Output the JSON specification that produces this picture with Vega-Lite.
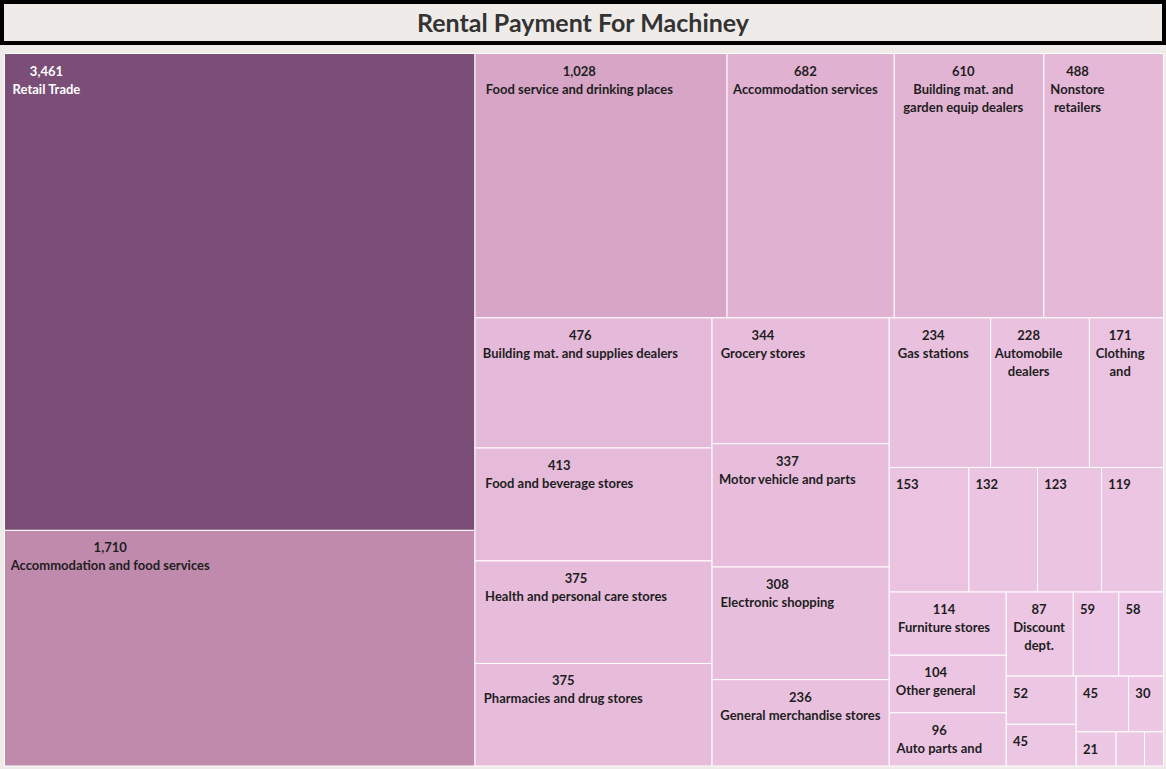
{
  "$schema": "https://vega.github.io/schema/vega-lite/v6.json",
  "background": "#efebe9",
  "padding": 0,
  "spacing": 8,
  "config": {"view": {"stroke": null}},
  "vconcat": [
    {
      "width": 1162,
      "height": 41,
      "view": {"stroke": "#000000", "strokeWidth": 4, "fill": "#efebe9"},
      "data": {"values": [{"title": "Rental Payment For Machiney"}]},
      "mark": {"type": "text", "font": "Lato", "fontSize": 25, "fontWeight": "bold", "color": "#333333", "align": "center", "baseline": "middle", "dy": 1},
      "encoding": {"text": {"field": "title", "type": "nominal"}}
    },
    {
      "width": 1164,
      "height": 714,
      "data": {
        "values": [
          {"id": "Retail Trade", "value": 3461, "path": "A", "l1": "Retail Trade", "l2": ""},
          {"id": "Accommodation and food services", "value": 1710, "path": "A", "l1": "Accommodation and food services", "l2": ""},
          {"id": "Food service and drinking places", "value": 1028, "path": "B/B1", "l1": "Food service and drinking places", "l2": ""},
          {"id": "Accommodation services", "value": 682, "path": "B/B1", "l1": "Accommodation services", "l2": ""},
          {"id": "Building mat. and garden equip dealers", "value": 610, "path": "B/B1", "l1": "Building mat. and", "l2": "garden equip dealers"},
          {"id": "Nonstore retailers", "value": 488, "path": "B/B1", "l1": "Nonstore", "l2": "retailers"},
          {"id": "Building mat. and supplies dealers", "value": 476, "path": "B/B2/C1", "l1": "Building mat. and supplies dealers", "l2": ""},
          {"id": "Food and beverage stores", "value": 413, "path": "B/B2/C1", "l1": "Food and beverage stores", "l2": ""},
          {"id": "Health and personal care stores", "value": 375, "path": "B/B2/C1", "l1": "Health and personal care stores", "l2": ""},
          {"id": "Pharmacies and drug stores", "value": 375, "path": "B/B2/C1", "l1": "Pharmacies and drug stores", "l2": ""},
          {"id": "Grocery stores", "value": 344, "path": "B/B2/C2", "l1": "Grocery stores", "l2": ""},
          {"id": "Motor vehicle and parts dealers", "value": 337, "path": "B/B2/C2", "l1": "Motor vehicle and parts", "l2": ""},
          {"id": "Electronic shopping", "value": 308, "path": "B/B2/C2", "l1": "Electronic shopping", "l2": ""},
          {"id": "General merchandise stores", "value": 236, "path": "B/B2/C2", "l1": "General merchandise stores", "l2": ""},
          {"id": "Gas stations", "value": 234, "path": "B/B2/C3/D1", "l1": "Gas stations", "l2": ""},
          {"id": "Automobile dealers", "value": 228, "path": "B/B2/C3/D1", "l1": "Automobile", "l2": "dealers"},
          {"id": "Clothing and clothing accessories stores", "value": 171, "path": "B/B2/C3/D1", "l1": "Clothing", "l2": "and"},
          {"id": "Unlabelled 153", "value": 153, "path": "B/B2/C3/D2", "l1": "", "l2": ""},
          {"id": "Unlabelled 132", "value": 132, "path": "B/B2/C3/D2", "l1": "", "l2": ""},
          {"id": "Unlabelled 123", "value": 123, "path": "B/B2/C3/D2", "l1": "", "l2": ""},
          {"id": "Unlabelled 119", "value": 119, "path": "B/B2/C3/D2", "l1": "", "l2": ""},
          {"id": "Furniture stores", "value": 114, "path": "B/B2/C3/D3/E1", "l1": "Furniture stores", "l2": ""},
          {"id": "Other general merchandise stores", "value": 104, "path": "B/B2/C3/D3/E1", "l1": "Other general", "l2": ""},
          {"id": "Auto parts and accessories stores", "value": 96, "path": "B/B2/C3/D3/E1", "l1": "Auto parts and", "l2": ""},
          {"id": "Discount dept. stores", "value": 87, "path": "B/B2/C3/D3/E2/F1", "l1": "Discount", "l2": "dept."},
          {"id": "Unlabelled 59", "value": 59, "path": "B/B2/C3/D3/E2/F1", "l1": "", "l2": ""},
          {"id": "Unlabelled 58", "value": 58, "path": "B/B2/C3/D3/E2/F1", "l1": "", "l2": ""},
          {"id": "Unlabelled 52", "value": 52, "path": "B/B2/C3/D3/E2/F2/G1", "l1": "", "l2": ""},
          {"id": "Unlabelled 45a", "value": 45, "path": "B/B2/C3/D3/E2/F2/G1", "l1": "", "l2": ""},
          {"id": "Unlabelled 45b", "value": 45, "path": "B/B2/C3/D3/E2/F2/G2/H1", "l1": "", "l2": ""},
          {"id": "Unlabelled 30", "value": 30, "path": "B/B2/C3/D3/E2/F2/G2/H1", "l1": "", "l2": ""},
          {"id": "Unlabelled 21", "value": 21, "path": "B/B2/C3/D3/E2/F2/G2/H2", "l1": "", "l2": ""},
          {"id": "Unlabelled 15", "value": 15, "path": "B/B2/C3/D3/E2/F2/G2/H2", "l1": "", "l2": ""},
          {"id": "Unlabelled 10", "value": 10, "path": "B/B2/C3/D3/E2/F2/G2/H2", "l1": "", "l2": ""}
        ]
      },
      "transform": [
        {"window": [{"op": "row_number", "as": "i"}]},
        {"calculate": "split(datum.path, '/')", "as": "pp"},
        {"calculate": "datum.pp[0] || datum.id", "as": "c1"},
        {"calculate": "datum.pp[1] || datum.id", "as": "c2"},
        {"calculate": "datum.pp[2] || datum.id", "as": "c3"},
        {"calculate": "datum.pp[3] || datum.id", "as": "c4"},
        {"calculate": "datum.pp[4] || datum.id", "as": "c5"},
        {"calculate": "datum.pp[5] || datum.id", "as": "c6"},
        {"calculate": "datum.pp[6] || datum.id", "as": "c7"},
        {"calculate": "datum.pp[7] || datum.id", "as": "c8"},
        {"calculate": "datum.pp[8] || datum.id", "as": "c9"},
        {"calculate": "0", "as": "x0"},
        {"calculate": "1", "as": "x1"},
        {"calculate": "0", "as": "y0"},
        {"calculate": "1", "as": "y1"},

        {"joinaggregate": [{"op": "sum", "field": "value", "as": "P"}]},
        {"stack": "value", "groupby": [], "sort": [{"field": "i", "order": "ascending"}], "as": ["s0", "s1"]},
        {"joinaggregate": [{"op": "min", "field": "s0", "as": "a"}, {"op": "max", "field": "s1", "as": "b"}], "groupby": ["c1"]},
        {"calculate": "datum.x0", "as": "t"},
        {"calculate": "datum.t + (datum.x1 - datum.t) * datum.a / datum.P", "as": "x0"},
        {"calculate": "datum.t + (datum.x1 - datum.t) * datum.b / datum.P", "as": "x1"},

        {"joinaggregate": [{"op": "sum", "field": "value", "as": "P"}], "groupby": ["c1"]},
        {"stack": "value", "groupby": ["c1"], "sort": [{"field": "i", "order": "ascending"}], "as": ["s0", "s1"]},
        {"joinaggregate": [{"op": "min", "field": "s0", "as": "a"}, {"op": "max", "field": "s1", "as": "b"}], "groupby": ["c2"]},
        {"calculate": "datum.y0", "as": "t"},
        {"calculate": "datum.t + (datum.y1 - datum.t) * datum.a / datum.P", "as": "y0"},
        {"calculate": "datum.t + (datum.y1 - datum.t) * datum.b / datum.P", "as": "y1"},

        {"joinaggregate": [{"op": "sum", "field": "value", "as": "P"}], "groupby": ["c2"]},
        {"stack": "value", "groupby": ["c2"], "sort": [{"field": "i", "order": "ascending"}], "as": ["s0", "s1"]},
        {"joinaggregate": [{"op": "min", "field": "s0", "as": "a"}, {"op": "max", "field": "s1", "as": "b"}], "groupby": ["c3"]},
        {"calculate": "datum.x0", "as": "t"},
        {"calculate": "datum.t + (datum.x1 - datum.t) * datum.a / datum.P", "as": "x0"},
        {"calculate": "datum.t + (datum.x1 - datum.t) * datum.b / datum.P", "as": "x1"},

        {"joinaggregate": [{"op": "sum", "field": "value", "as": "P"}], "groupby": ["c3"]},
        {"stack": "value", "groupby": ["c3"], "sort": [{"field": "i", "order": "ascending"}], "as": ["s0", "s1"]},
        {"joinaggregate": [{"op": "min", "field": "s0", "as": "a"}, {"op": "max", "field": "s1", "as": "b"}], "groupby": ["c4"]},
        {"calculate": "datum.y0", "as": "t"},
        {"calculate": "datum.t + (datum.y1 - datum.t) * datum.a / datum.P", "as": "y0"},
        {"calculate": "datum.t + (datum.y1 - datum.t) * datum.b / datum.P", "as": "y1"},

        {"joinaggregate": [{"op": "sum", "field": "value", "as": "P"}], "groupby": ["c4"]},
        {"stack": "value", "groupby": ["c4"], "sort": [{"field": "i", "order": "ascending"}], "as": ["s0", "s1"]},
        {"joinaggregate": [{"op": "min", "field": "s0", "as": "a"}, {"op": "max", "field": "s1", "as": "b"}], "groupby": ["c5"]},
        {"calculate": "datum.x0", "as": "t"},
        {"calculate": "datum.t + (datum.x1 - datum.t) * datum.a / datum.P", "as": "x0"},
        {"calculate": "datum.t + (datum.x1 - datum.t) * datum.b / datum.P", "as": "x1"},

        {"joinaggregate": [{"op": "sum", "field": "value", "as": "P"}], "groupby": ["c5"]},
        {"stack": "value", "groupby": ["c5"], "sort": [{"field": "i", "order": "ascending"}], "as": ["s0", "s1"]},
        {"joinaggregate": [{"op": "min", "field": "s0", "as": "a"}, {"op": "max", "field": "s1", "as": "b"}], "groupby": ["c6"]},
        {"calculate": "datum.y0", "as": "t"},
        {"calculate": "datum.t + (datum.y1 - datum.t) * datum.a / datum.P", "as": "y0"},
        {"calculate": "datum.t + (datum.y1 - datum.t) * datum.b / datum.P", "as": "y1"},

        {"joinaggregate": [{"op": "sum", "field": "value", "as": "P"}], "groupby": ["c6"]},
        {"stack": "value", "groupby": ["c6"], "sort": [{"field": "i", "order": "ascending"}], "as": ["s0", "s1"]},
        {"joinaggregate": [{"op": "min", "field": "s0", "as": "a"}, {"op": "max", "field": "s1", "as": "b"}], "groupby": ["c7"]},
        {"calculate": "datum.x0", "as": "t"},
        {"calculate": "datum.t + (datum.x1 - datum.t) * datum.a / datum.P", "as": "x0"},
        {"calculate": "datum.t + (datum.x1 - datum.t) * datum.b / datum.P", "as": "x1"},

        {"joinaggregate": [{"op": "sum", "field": "value", "as": "P"}], "groupby": ["c7"]},
        {"stack": "value", "groupby": ["c7"], "sort": [{"field": "i", "order": "ascending"}], "as": ["s0", "s1"]},
        {"joinaggregate": [{"op": "min", "field": "s0", "as": "a"}, {"op": "max", "field": "s1", "as": "b"}], "groupby": ["c8"]},
        {"calculate": "datum.y0", "as": "t"},
        {"calculate": "datum.t + (datum.y1 - datum.t) * datum.a / datum.P", "as": "y0"},
        {"calculate": "datum.t + (datum.y1 - datum.t) * datum.b / datum.P", "as": "y1"},

        {"joinaggregate": [{"op": "sum", "field": "value", "as": "P"}], "groupby": ["c8"]},
        {"stack": "value", "groupby": ["c8"], "sort": [{"field": "i", "order": "ascending"}], "as": ["s0", "s1"]},
        {"joinaggregate": [{"op": "min", "field": "s0", "as": "a"}, {"op": "max", "field": "s1", "as": "b"}], "groupby": ["c9"]},
        {"calculate": "datum.x0", "as": "t"},
        {"calculate": "datum.t + (datum.x1 - datum.t) * datum.a / datum.P", "as": "x0"},
        {"calculate": "datum.t + (datum.x1 - datum.t) * datum.b / datum.P", "as": "x1"}
      ],
      "encoding": {
        "x": {"field": "x0", "type": "quantitative", "scale": {"domain": [0, 1], "range": [2.5, 1161.5], "nice": false, "zero": false}, "axis": null},
        "y": {"field": "y0", "type": "quantitative", "scale": {"domain": [0, 1], "range": [0.5, 713], "nice": false, "zero": false}, "axis": null}
      },
      "layer": [
        {
          "mark": {"type": "rect", "stroke": "#ffffff", "strokeWidth": 1},
          "encoding": {
            "x2": {"field": "x1"},
            "y2": {"field": "y1"},
            "color": {
              "field": "value",
              "type": "quantitative",
              "scale": {"domain": [10, 200, 500, 1028, 1710, 3461], "range": ["#edc8e5", "#eac2e0", "#e5b8d8", "#d7a5c5", "#c08aad", "#7b4e78"]},
              "legend": null
            }
          }
        },
        {
          "transform": [
            {"filter": "datum.value >= 20"},
            {"calculate": "format(datum.value, ',')", "as": "vs"},
            {"calculate": "length(datum.vs)*7.3 - length(replace(datum.vs, regexp('[^ijl.,: ]','g'), ''))*4.0", "as": "w0"},
            {"calculate": "1.04*(length(datum.l1)*7.0 - length(replace(datum.l1, regexp('[^ijl.,: ]','g'), ''))*4.0 - length(replace(datum.l1, regexp('[^tfr]','g'), ''))*2.4)", "as": "w1"},
            {"calculate": "1.04*(length(datum.l2)*7.0 - length(replace(datum.l2, regexp('[^ijl.,: ]','g'), ''))*4.0 - length(replace(datum.l2, regexp('[^tfr]','g'), ''))*2.4)", "as": "w2"},
            {"calculate": "max(datum.w0, datum.w1, datum.w2)", "as": "W"},
            {"calculate": "[datum.vs, datum.l1, datum.l2]", "as": "txt"}
          ],
          "mark": {
            "type": "text",
            "font": "Lato",
            "fontSize": 13,
            "fontWeight": "bold",
            "align": "center",
            "baseline": "alphabetic",
            "lineHeight": 18,
            "dx": {"expr": "7 + datum.W / 2"},
            "dy": 22
          },
          "encoding": {
            "text": {"field": "txt", "type": "nominal"},
            "color": {
              "condition": {"test": "datum.value > 3000", "value": "#ffffff"},
              "value": "#1e1e1e"
            }
          }
        }
      ]
    }
  ]
}
